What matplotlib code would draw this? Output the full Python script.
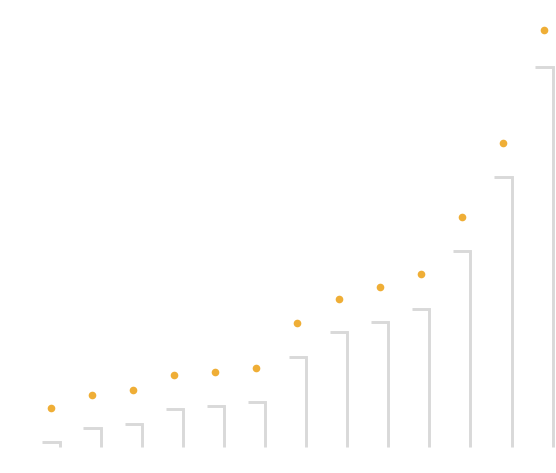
import numpy as np
import matplotlib
matplotlib.use('Agg')
import matplotlib.pyplot as plt

# values (height above baseline)
positions = np.arange(13)
bar_values = [5, 19, 23, 38, 41, 45, 90, 115, 125, 138, 196, 270, 380]
dot_values = [39, 52, 57, 72, 75, 79, 124, 148, 160, 173, 230, 304, 417]

fig = plt.figure(figsize=(5.56, 4.73), dpi=100)
ax = fig.add_axes([0, 0, 1, 1])

hw = 0.21
for x, v in zip(positions, bar_values):
    ax.plot([x - hw, x + hw, x + hw], [v, v, 0], color='#d9d9d9', lw=2.1,
            solid_joinstyle='miter', solid_capstyle='butt')

ax.plot(positions, dot_values, 'o', color='#efae36', markersize=5.5, markeredgewidth=0)

ax.set_xlim(-51 / 41.08, (556 - 51) / 41.08)
ax.set_ylim(-26, 447)
ax.axis('off')

fig.savefig('out.png', dpi=100)
